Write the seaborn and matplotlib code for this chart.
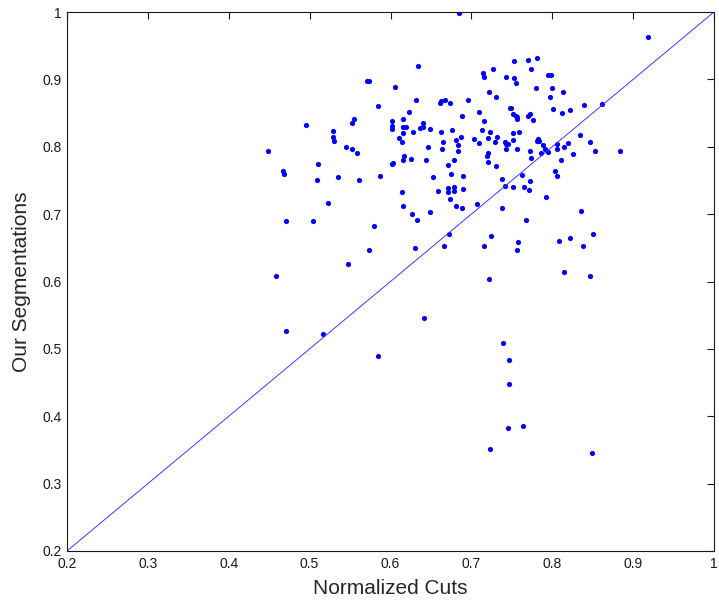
import pandas as pd
import matplotlib
matplotlib.use("Agg")
import matplotlib.pyplot as plt
import seaborn as sns

# Normalized Cuts score vs. our segmentation score, one point per image
ncuts = [
    0.571, 0.574, 0.605, 0.585, 0.623, 0.495, 0.555, 0.553, 0.602, 0.602,
    0.602, 0.615, 0.615, 0.619, 0.529, 0.615, 0.529, 0.530, 0.611, 0.614,
    0.545, 0.552, 0.449, 0.559, 0.617, 0.616, 0.603, 0.602, 0.510, 0.467,
    0.468, 0.509, 0.535, 0.561, 0.587, 0.614,
    0.685, 0.634, 0.714, 0.716, 0.727, 0.753, 0.770, 0.781, 0.774, 0.743,
    0.753, 0.755, 0.795, 0.798, 0.722, 0.730, 0.780, 0.800, 0.813, 0.797,
    0.631, 0.661, 0.662, 0.667, 0.673, 0.696, 0.801, 0.822, 0.812, 0.748,
    0.749, 0.752, 0.755, 0.757, 0.757, 0.770, 0.772, 0.776, 0.710, 0.715,
    0.689, 0.640, 0.640, 0.636, 0.649, 0.628, 0.663, 0.676, 0.713, 0.723,
    0.752, 0.759, 0.687, 0.681, 0.703, 0.720, 0.732, 0.709, 0.729, 0.665,
    0.683, 0.684, 0.741, 0.743, 0.745, 0.752, 0.781, 0.782, 0.783, 0.788,
    0.791, 0.795, 0.806, 0.806, 0.814, 0.820, 0.834, 0.646, 0.664, 0.743,
    0.757, 0.773, 0.625, 0.644, 0.678, 0.721, 0.719, 0.721, 0.730, 0.774,
    0.786, 0.811, 0.826, 0.671, 0.675, 0.653, 0.690, 0.803, 0.806, 0.738,
    0.762, 0.773, 0.742, 0.752, 0.765, 0.771, 0.659, 0.671, 0.678, 0.671,
    0.679, 0.690, 0.673, 0.792,
    0.919, 0.839, 0.861, 0.847, 0.853, 0.884,
    0.523, 0.615, 0.471, 0.504, 0.580, 0.574, 0.547, 0.459, 0.471, 0.517,
    0.585,
    0.681, 0.688, 0.707, 0.738, 0.626, 0.633, 0.649, 0.768, 0.672, 0.724,
    0.630, 0.666, 0.715, 0.758, 0.757, 0.808, 0.822, 0.815, 0.722, 0.642,
    0.739, 0.746,
    0.836, 0.850, 0.838, 0.847,
    0.746, 0.745, 0.764, 0.723, 0.849,
]
ours = [
    0.897, 0.897, 0.889, 0.860, 0.851, 0.832, 0.841, 0.835, 0.838, 0.831,
    0.826, 0.841, 0.830, 0.830, 0.824, 0.821, 0.815, 0.809, 0.813, 0.807,
    0.800, 0.797, 0.794, 0.790, 0.786, 0.780, 0.776, 0.775, 0.775, 0.764,
    0.760, 0.750, 0.755, 0.750, 0.757, 0.733,
    0.998, 0.920, 0.910, 0.903, 0.916, 0.927, 0.929, 0.931, 0.916, 0.903,
    0.902, 0.895, 0.906, 0.907, 0.881, 0.874, 0.887, 0.887, 0.881, 0.874,
    0.870, 0.865, 0.868, 0.869, 0.865, 0.870, 0.856, 0.855, 0.850, 0.858,
    0.857, 0.849, 0.846, 0.844, 0.841, 0.845, 0.848, 0.839, 0.852, 0.838,
    0.845, 0.835, 0.829, 0.828, 0.826, 0.822, 0.822, 0.825, 0.825, 0.822,
    0.821, 0.822, 0.814, 0.810, 0.811, 0.813, 0.815, 0.805, 0.807, 0.807,
    0.802, 0.794, 0.807, 0.804, 0.804, 0.810, 0.809, 0.811, 0.808, 0.802,
    0.797, 0.792, 0.804, 0.796, 0.799, 0.805, 0.817, 0.799, 0.796, 0.796,
    0.797, 0.793, 0.782, 0.780, 0.780, 0.791, 0.787, 0.777, 0.771, 0.783,
    0.791, 0.780, 0.789, 0.773, 0.760, 0.755, 0.757, 0.764, 0.757, 0.752,
    0.758, 0.749, 0.742, 0.741, 0.741, 0.736, 0.734, 0.739, 0.741, 0.733,
    0.734, 0.737, 0.722, 0.726,
    0.963, 0.862, 0.863, 0.807, 0.793, 0.793,
    0.716, 0.712, 0.690, 0.690, 0.683, 0.647, 0.626, 0.608, 0.526, 0.522,
    0.490,
    0.712, 0.709, 0.715, 0.709, 0.700, 0.691, 0.703, 0.691, 0.670, 0.667,
    0.650, 0.652, 0.652, 0.658, 0.647, 0.660, 0.664, 0.614, 0.604, 0.546,
    0.509, 0.483,
    0.705, 0.671, 0.653, 0.608,
    0.448, 0.382, 0.386, 0.351, 0.346,
]

x_ticks = [0.2, 0.3, 0.4, 0.5, 0.6, 0.7, 0.8, 0.9, 1.0]
x_tick_labels = ["0.2", "0.3", "0.4", "0.5", "0.6", "0.7", "0.8", "0.9", "1"]
y_ticks = [0.2, 0.3, 0.4, 0.5, 0.6, 0.7, 0.8, 0.9, 1.0]
y_tick_labels = ["0.2", "0.3", "0.4", "0.5", "0.6", "0.7", "0.8", "0.9", "1"]
diag = [0.2, 1.0]

df = pd.DataFrame({"ncuts": ncuts, "ours": ours})

sns.set_style("white")
plt.rcParams["font.family"] = ["Liberation Sans", "DejaVu Sans"]

fig = plt.figure(figsize=(7.19, 6.09), dpi=100)
ax = fig.add_axes([67 / 719, 1 - 551 / 609, 647 / 719, 539 / 609])

sns.lineplot(x=diag, y=diag, ax=ax, color="#3a3aff", linewidth=0.7)
sns.scatterplot(data=df, x="ncuts", y="ours", ax=ax, color="#0000ff",
                marker="o", s=14, linewidth=0)

ax.set_xlim(0.2, 1.0)
ax.set_ylim(0.2, 1.0)
ax.set_xticks(x_ticks)
ax.set_xticklabels(x_tick_labels)
ax.set_yticks(y_ticks)
ax.set_yticklabels(y_tick_labels)
ax.tick_params(direction="in", top=True, right=True, length=5, width=0.8,
               labelsize=10, colors="#1a1a1a", pad=4)
for sp in ax.spines.values():
    sp.set_color("#1a1a1a")
    sp.set_linewidth(0.8)

ax.set_xlabel("Normalized Cuts", fontsize=15, labelpad=6)
ax.set_ylabel("Our Segmentations", fontsize=15, labelpad=8)

fig.savefig("out.png", dpi=100)
